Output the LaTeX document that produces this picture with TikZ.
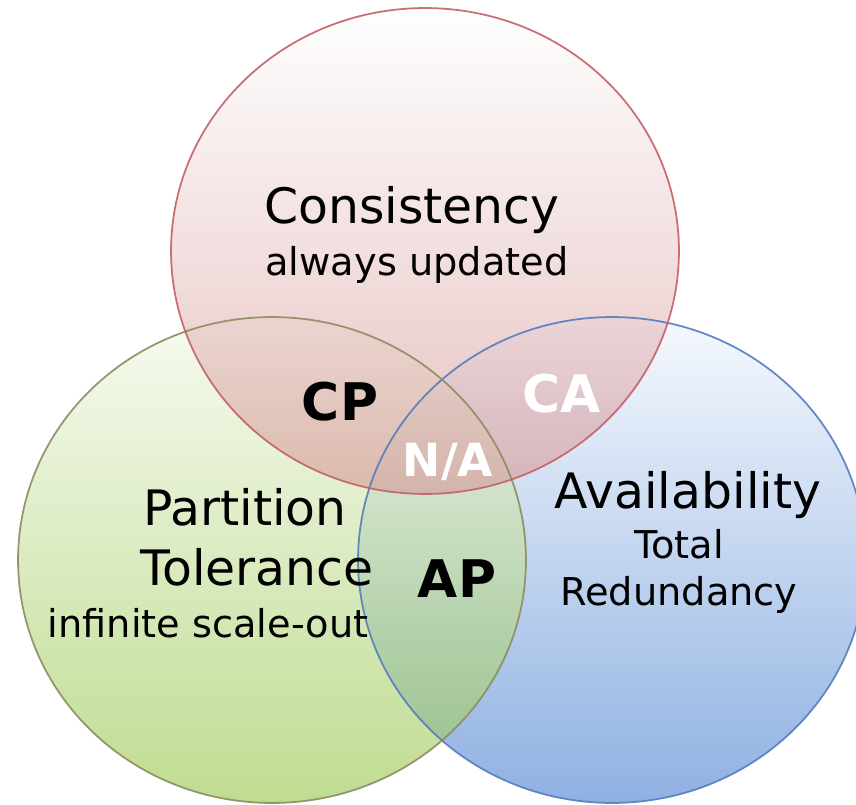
\documentclass[tikz,border=0pt]{standalone}
\usepackage{fontspec}
\setmainfont{DejaVu Sans}
\definecolor{redtop}{RGB}{255,255,255}
\definecolor{redmid}{RGB}{236,204,204}
\definecolor{redbot}{RGB}{214,150,150}
\definecolor{redline}{RGB}{196,96,100}
\definecolor{greentop}{RGB}{240,248,230}
\definecolor{greenmid}{RGB}{200,227,155}
\definecolor{greenbot}{RGB}{150,197,72}
\definecolor{greenline}{RGB}{140,140,96}
\definecolor{bluetop}{RGB}{240,245,252}
\definecolor{bluemid}{RGB}{172,197,233}
\definecolor{bluebot}{RGB}{68,125,207}
\definecolor{blueline}{RGB}{84,124,190}
\begin{document}
\begin{tikzpicture}[x=0.02cm,y=-0.02cm,
  setfill/.style={fill opacity=0.6},
  setline/.style={line width=1pt, draw opacity=0.9},
  maintitle/.style={anchor=base, inner sep=0pt, font=\fontsize{27.8pt}{32pt}\selectfont},
  subtitle/.style={anchor=base, inner sep=0pt, font=\fontsize{21.8pt}{26pt}\selectfont},
  pairlabel/.style={anchor=base, inner sep=0pt, font=\fontsize{29.5pt}{34pt}\selectfont\bfseries}]
\useasboundingbox (0,0) rectangle (856,805);
\fill[white] (0,0) rectangle (856,805);
\clip (0,0) rectangle (856,805);

% circle centres
\coordinate (cC) at (425,251);
\coordinate (cP) at (272,560);
\coordinate (cA) at (612,560);

% gradient fills, blue at the back, red in front
\path[shade, top color=bluetop, middle color=bluemid, bottom color=bluebot, setfill]
  (cA) ellipse [x radius=5.08cm, y radius=4.86cm];
\path[shade, top color=greentop, middle color=greenmid, bottom color=greenbot, setfill]
  (cP) ellipse [x radius=5.08cm, y radius=4.86cm];
\path[shade, top color=redtop, middle color=redmid, bottom color=redbot, setfill]
  (cC) ellipse [x radius=5.08cm, y radius=4.86cm];

% outlines
\draw[setline, blueline] (cA) ellipse [x radius=5.08cm, y radius=4.86cm];
\draw[setline, greenline] (cP) ellipse [x radius=5.08cm, y radius=4.86cm];
\draw[setline, redline] (cC) ellipse [x radius=5.08cm, y radius=4.86cm];

% set titles
\node[maintitle] (consT) at (412,223) {Consistency};
\node[subtitle] (consS) at (417,275) {always updated};
\node[maintitle] (partT1) at (245,525) {Partition};
\node[maintitle] (partT2) at (257,585) {Tolerance};
\node[subtitle] (partS) at (208,637) {infinite scale-out};
\node[maintitle] (availT) at (688,508) {Availability};
\node[subtitle] (availS1) at (679,558) {Total};
\node[subtitle] (availS2) at (679,605) {Redundancy};

% overlap labels
\node[pairlabel] (cp) at (340,420) {CP};
\node[pairlabel, text=white] (ca) at (562,412) {CA};
\node[pairlabel, text=white, font=\fontsize{26pt}{30pt}\selectfont\bfseries] (na) at (448,476) {N/A};
\node[pairlabel] (ap) at (457,597) {AP};
\end{tikzpicture}
\end{document}
